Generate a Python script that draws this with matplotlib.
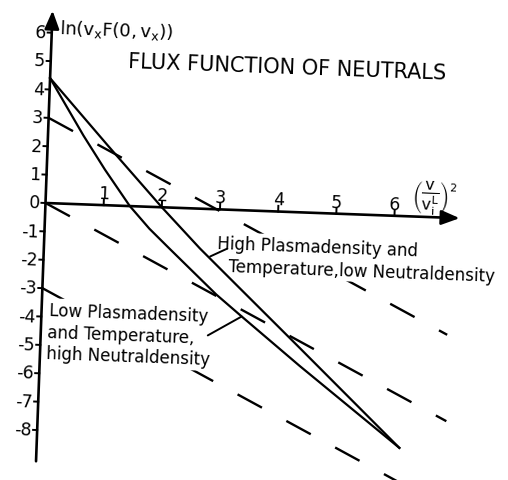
"""Flux function of neutrals: ln(v_x F(0, v_x)) against (v / v_i^L)^2, redrawn from a scan.

The scan is turned about 2 degrees clockwise, so everything is drawn through
transData plus a small rotation about the origin of the axes.
"""

import matplotlib

matplotlib.use("Agg")
import matplotlib.pyplot as plt
from matplotlib.patches import FancyArrowPatch
from matplotlib.transforms import Affine2D

# solid curves
LOW_X = [0.0, 0.61, 1.0, 1.45, 1.8, 2.16, 2.99, 3.44, 4.47, 6.23]
LOW_Y = [4.4, 2.42, 1.25, 0.0, -0.77, -1.45, -3.0, -3.74, -5.41, -8.16]
HIGH_X = [0.0, 1.04, 2.0, 2.68, 3.39, 4.46, 6.23]
HIGH_Y = [4.4, 2.09, 0.0, -1.40, -2.75, -4.78, -8.16]

# dashed reference lines  y = b + slope * x
DASH_B = [3.0, 0.0, -3.0]
DASH_SLOPE = -1.02
DASH_X_END = [6.98, 7.02, 7.0]

X_TICKS = [1, 2, 3, 4, 5, 6]
Y_TICKS = [6, 5, 4, 3, 2, 1, 0, -1, -2, -3, -4, -5, -6, -7, -8]

TITLE = "FLUX FUNCTION OF NEUTRALS"
Y_LABEL = r"$ln(v_xF(0,v_x))$"
X_LABEL = r"$\left(\dfrac{v}{v_i^L}\right)^2$"
HIGH_LINES = ["High Plasmadensity and", "Temperature,low Neutraldensity"]
LOW_LINES = ["Low Plasmadensity", "and Temperature,", "high Neutraldensity"]

TILT = -2.1  # degrees, scan rotation

plt.rcParams["mathtext.default"] = "regular"
plt.rcParams["lines.scale_dashes"] = False
plt.rcParams["font.family"] = "DejaVu Sans"

fig = plt.figure(figsize=(5.08, 4.81), dpi=100)
ax = fig.add_axes([0, 0, 1, 1])
ax.set_xlim(-45.5 / 58.2, (508 - 45.5) / 58.2)
ax.set_ylim((204 - 481) / 28.4, 204 / 28.4)
ax.axis("off")

ox, oy = ax.transData.transform((0, 0))
tr = ax.transData + Affine2D().rotate_deg_around(ox, oy, TILT)
txt = dict(transform=tr, rotation=TILT, rotation_mode="anchor", color="black")
white = dict(boxstyle="square,pad=0.15", fc="white", ec="none")

# axes with arrow heads
arrow = "-|>,head_length=0.55,head_width=0.22"
for start, end in [((0, -9.1), (0, 6.78)), ((0, 0), (7.12, 0))]:
    ax.add_patch(FancyArrowPatch(start, end, arrowstyle=arrow, mutation_scale=20,
                                 transform=tr, lw=1.9, color="black",
                                 shrinkA=0, shrinkB=0, zorder=4))

for t in X_TICKS:
    ax.plot([t, t], [0, 0.2], color="black", lw=1.4, transform=tr, zorder=4)
    ax.text(t, 0.1, str(t), ha="center", va="bottom", fontsize=12.5, **txt)
for t in Y_TICKS:
    ax.plot([-0.07, 0], [t, t], color="black", lw=1.4, transform=tr, zorder=4)
    ax.text(-0.1, t, str(t), ha="right", va="center", fontsize=12.5, **txt)

ax.text(0.12, 6.0, Y_LABEL, ha="left", va="baseline", fontsize=13, **txt)
ax.text(6.67, 0.66, X_LABEL, ha="center", va="center", fontsize=11.5, **txt)
ax.text(1.33, 4.9, TITLE, ha="left", va="baseline", fontsize=15, **txt)

# dashed lines
for b, xe in zip(DASH_B, DASH_X_END):
    ax.plot([0, xe], [b, b + DASH_SLOPE * xe], color="black", lw=1.7,
            ls=(0, (20, 20)), transform=tr, zorder=1)

# solid curves
ax.plot(LOW_X, LOW_Y, color="black", lw=1.6, transform=tr, zorder=4)
ax.plot(HIGH_X, HIGH_Y, color="black", lw=1.6, transform=tr, zorder=4)

# labels for the curves
for (x, y), line in zip([(2.97, -1.38), (3.18, -2.14)], HIGH_LINES):
    ax.text(x, y, line, ha="left", va="baseline", fontsize=12, bbox=white, zorder=3, **txt)
for i, line in enumerate(LOW_LINES):
    ax.text(0.14 - 0.03 * (i > 0), -3.93 - 0.77 * i, line, ha="left", va="baseline",
            fontsize=12, bbox=white, zorder=3, **txt)

lead = dict(arrowstyle="-", color="black", lw=1.4, shrinkA=0, shrinkB=0)
ax.annotate("", xy=(2.86, -1.67), xytext=(3.15, -1.37), xycoords=tr, textcoords=tr,
            arrowprops=lead, zorder=4)
ax.annotate("", xy=(LOW_X[7], LOW_Y[7]), xytext=(2.87, -4.45), xycoords=tr, textcoords=tr,
            arrowprops=lead, zorder=4)

fig.savefig("out.png", dpi=100)
